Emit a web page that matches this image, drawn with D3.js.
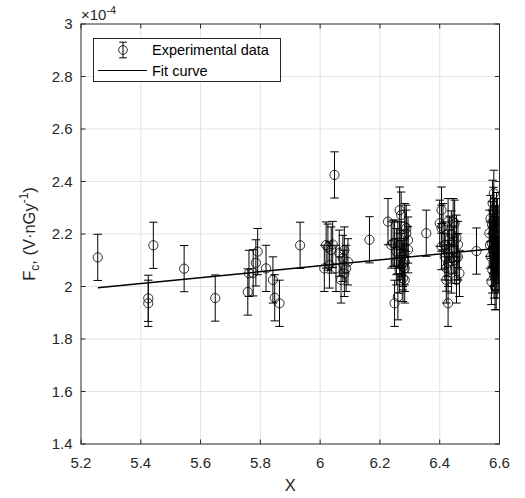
<!DOCTYPE html>
<html>
<head>
<meta charset="utf-8">
<script src="https://cdn.jsdelivr.net/npm/d3@7/dist/d3.min.js"></script>
<style>
  html, body { margin: 0; padding: 0; background: #fff; }
  svg { display: block; font-family: "Liberation Sans", Arial, Helvetica, sans-serif; }
</style>
</head>
<body>
<svg id="chart" width="525" height="498"></svg>
<script>
// ---- data (values in units of 1e-4) ----
const xVals = [
  5.256, 5.425, 5.425, 5.442, 5.545, 5.649, 5.758, 5.762, 5.776, 5.785, 5.791, 5.819, 5.842, 5.848, 5.864, 5.933,
  6.014, 6.020, 6.026, 6.031, 6.037, 6.042, 6.048, 6.053, 6.064, 6.070, 6.076, 6.081, 6.081, 6.087, 6.093, 6.165,
  6.227, 6.238, 6.244, 6.249, 6.249, 6.255, 6.255, 6.260, 6.260, 6.266, 6.266, 6.266, 6.271, 6.271, 6.271, 6.277,
  6.277, 6.277, 6.283, 6.283, 6.283, 6.283, 6.288, 6.288, 6.294, 6.294, 6.355,
  6.400, 6.406, 6.406, 6.406, 6.411, 6.417, 6.417, 6.422, 6.422, 6.428, 6.428, 6.428, 6.428, 6.433, 6.439, 6.439,
  6.445, 6.445, 6.450, 6.450, 6.456, 6.456, 6.456, 6.461, 6.461, 6.466, 6.523,
  6.566, 6.568, 6.570, 6.571, 6.573, 6.574, 6.575, 6.576, 6.577, 6.578, 6.579, 6.580, 6.580, 6.581, 6.582, 6.583,
  6.584, 6.585, 6.585, 6.586, 6.587, 6.588, 6.588, 6.589, 6.590, 6.590, 6.591, 6.592, 6.593, 6.594, 6.595, 6.596,
  6.597, 6.598
];
const yVals = [
  2.111, 1.955, 1.936, 2.157, 2.068, 1.956, 1.979, 2.050, 2.052, 2.090, 2.133, 2.069, 2.025, 1.957, 1.936, 2.157,
  2.069, 2.158, 2.150, 2.082, 2.139, 2.160, 2.425, 2.069, 2.127, 2.025, 2.107, 2.139, 2.050, 2.069, 2.094, 2.178,
  2.247, 2.158, 2.165, 2.165, 1.936, 2.094, 2.133, 1.961, 2.158, 2.291, 2.158, 2.063, 2.272, 2.127, 2.113, 2.075,
  2.088, 2.031, 2.228, 2.094, 2.025, 2.069, 2.203, 2.222, 2.177, 2.140, 2.203,
  2.241, 2.291, 2.222, 2.152, 2.228, 2.113, 2.158, 2.025, 2.070, 2.247, 2.088, 2.127, 1.936, 2.180, 2.063, 2.200,
  2.247, 2.139, 2.241, 2.100, 2.184, 2.113, 2.025, 2.113, 2.160, 2.050, 2.135,
  2.203, 2.158, 2.259, 2.113, 2.019, 2.165, 2.235, 2.063, 2.317, 2.139, 2.203, 2.290, 2.088, 2.355, 2.044, 2.177,
  2.247, 2.113, 1.999, 2.075, 2.220, 2.139, 2.158, 2.000, 2.270, 2.088, 2.190, 2.044, 2.247, 2.127, 2.177, 2.063,
  2.100, 2.215
];
const errHalf = 0.088;           // half-length of every error bar
const fitX = [5.256, 6.596];     // fit curve end points
const fitY = [1.995, 2.146];
const xTicks = [5.2, 5.4, 5.6, 5.8, 6.0, 6.2, 6.4, 6.6];
const yTicks = [1.4, 1.6, 1.8, 2.0, 2.2, 2.4, 2.6, 2.8, 3.0];
const legendLabels = ["Experimental data", "Fit curve"];

// ---- layout ----
const svg = d3.select("#chart");
const L = 81, R = 499.5, T = 24, B = 444;
const x = d3.scaleLinear().domain([5.2, 6.6]).range([L, R]);
const y = d3.scaleLinear().domain([1.4, 3.0]).range([B, T]);
const axisColor = "#262626";
const fmt = d => (Math.abs(d - Math.round(d)) < 1e-9 ? d3.format("d")(d) : d3.format(".1f")(d));

// grid
const grid = svg.append("g");
grid.selectAll("line.gx").data(xTicks.slice(1, -1)).join("line")
  .attr("x1", d => x(d)).attr("x2", d => x(d)).attr("y1", T).attr("y2", B)
  .attr("stroke", "#e3e3e3").attr("stroke-width", 1);
grid.selectAll("line.gy").data(yTicks.slice(1, -1)).join("line")
  .attr("y1", d => y(d)).attr("y2", d => y(d)).attr("x1", L).attr("x2", R)
  .attr("stroke", "#e3e3e3").attr("stroke-width", 1);

// clip
svg.append("clipPath").attr("id", "clip").append("rect")
  .attr("x", L).attr("y", T).attr("width", R - L).attr("height", B - T);

const plot = svg.append("g").attr("clip-path", "url(#clip)");
const pts = xVals.map((v, i) => ({ x: v, y: yVals[i] }));

// error bars
const eb = plot.append("g").attr("stroke", "#000").attr("stroke-width", 1).attr("fill", "none");
pts.forEach(p => {
  const cx = x(p.x), y1 = y(p.y - errHalf), y2 = y(p.y + errHalf);
  eb.append("line").attr("x1", cx).attr("x2", cx).attr("y1", y1).attr("y2", y2);
  eb.append("line").attr("x1", cx - 4.2).attr("x2", cx + 4.2).attr("y1", y1).attr("y2", y1);
  eb.append("line").attr("x1", cx - 4.2).attr("x2", cx + 4.2).attr("y1", y2).attr("y2", y2);
});

// fit curve
const line = d3.line().x(d => x(d[0])).y(d => y(d[1]));
plot.append("path").datum(fitX.map((v, i) => [v, fitY[i]]))
  .attr("d", line).attr("stroke", "#000").attr("stroke-width", 1.5).attr("fill", "none");

// markers
plot.append("g").selectAll("circle").data(pts).join("circle")
  .attr("cx", d => x(d.x)).attr("cy", d => y(d.y)).attr("r", 4.6)
  .attr("fill", "none").attr("stroke", "#000").attr("stroke-width", 0.8);

// axes box
svg.append("rect").attr("x", L).attr("y", T).attr("width", R - L).attr("height", B - T)
  .attr("fill", "none").attr("stroke", axisColor).attr("stroke-width", 1);

// ticks (inward on all four sides)
const tk = svg.append("g").attr("stroke", axisColor).attr("stroke-width", 1);
xTicks.forEach(d => {
  tk.append("line").attr("x1", x(d)).attr("x2", x(d)).attr("y1", B).attr("y2", B - 4.5);
  tk.append("line").attr("x1", x(d)).attr("x2", x(d)).attr("y1", T).attr("y2", T + 4.5);
});
yTicks.forEach(d => {
  tk.append("line").attr("y1", y(d)).attr("y2", y(d)).attr("x1", L).attr("x2", L + 4.5);
  tk.append("line").attr("y1", y(d)).attr("y2", y(d)).attr("x1", R).attr("x2", R - 4.5);
});

// tick labels
svg.append("g").selectAll("text").data(xTicks).join("text")
  .attr("x", d => x(d)).attr("y", 467.5).attr("text-anchor", "middle")
  .attr("font-size", 15).attr("fill", axisColor).text(fmt);
svg.append("g").selectAll("text").data(yTicks).join("text")
  .attr("x", 72.5).attr("y", d => y(d)).attr("dy", "0.36em").attr("text-anchor", "end")
  .attr("font-size", 15).attr("fill", axisColor).text(fmt);

// exponent
const ex = svg.append("text").attr("x", 81).attr("y", 20).attr("font-size", 15).attr("fill", axisColor);
ex.append("tspan").text("\u00d710");
ex.append("tspan").attr("font-size", 11).attr("dy", -6).text("-4");

// axis labels
svg.append("text").attr("x", (L + R) / 2).attr("y", 491).attr("text-anchor", "middle")
  .attr("font-size", 16.5).attr("fill", axisColor).text("X");
const yl = svg.append("text").attr("transform", `translate(35,${(T + B) / 2}) rotate(-90)`)
  .attr("text-anchor", "middle").attr("font-size", 16.5).attr("fill", axisColor);
yl.append("tspan").text("F");
yl.append("tspan").attr("font-size", 12).attr("dy", 4).text("c");
yl.append("tspan").attr("dy", -4).text(", (V\u00b7nGy");
yl.append("tspan").attr("font-size", 12).attr("dy", -7).text("-1");
yl.append("tspan").attr("dy", 7).text(")");

// legend
const lg = svg.append("g");
lg.append("rect").attr("x", 93.5).attr("y", 38.5).attr("width", 187).attr("height", 43)
  .attr("fill", "#fff").attr("stroke", axisColor).attr("stroke-width", 1);
const lcx = 123, lcy = 50;
lg.append("line").attr("x1", lcx).attr("x2", lcx).attr("y1", lcy - 7.8).attr("y2", lcy + 7.8).attr("stroke", "#000");
lg.append("line").attr("x1", lcx - 3.8).attr("x2", lcx + 3.8).attr("y1", lcy - 7.8).attr("y2", lcy - 7.8).attr("stroke", "#000");
lg.append("line").attr("x1", lcx - 3.8).attr("x2", lcx + 3.8).attr("y1", lcy + 7.8).attr("y2", lcy + 7.8).attr("stroke", "#000");
lg.append("circle").attr("cx", lcx).attr("cy", lcy).attr("r", 4.3).attr("fill", "none").attr("stroke", "#000").attr("stroke-width", 0.8);
lg.append("line").attr("x1", 98).attr("x2", 147).attr("y1", 70.5).attr("y2", 70.5).attr("stroke", "#000").attr("stroke-width", 1);
lg.selectAll("text").data(legendLabels).join("text")
  .attr("x", 152).attr("y", (d, i) => 55 + i * 21).attr("font-size", 14.5).attr("fill", "#000").text(d => d);
</script>
</body>
</html>
